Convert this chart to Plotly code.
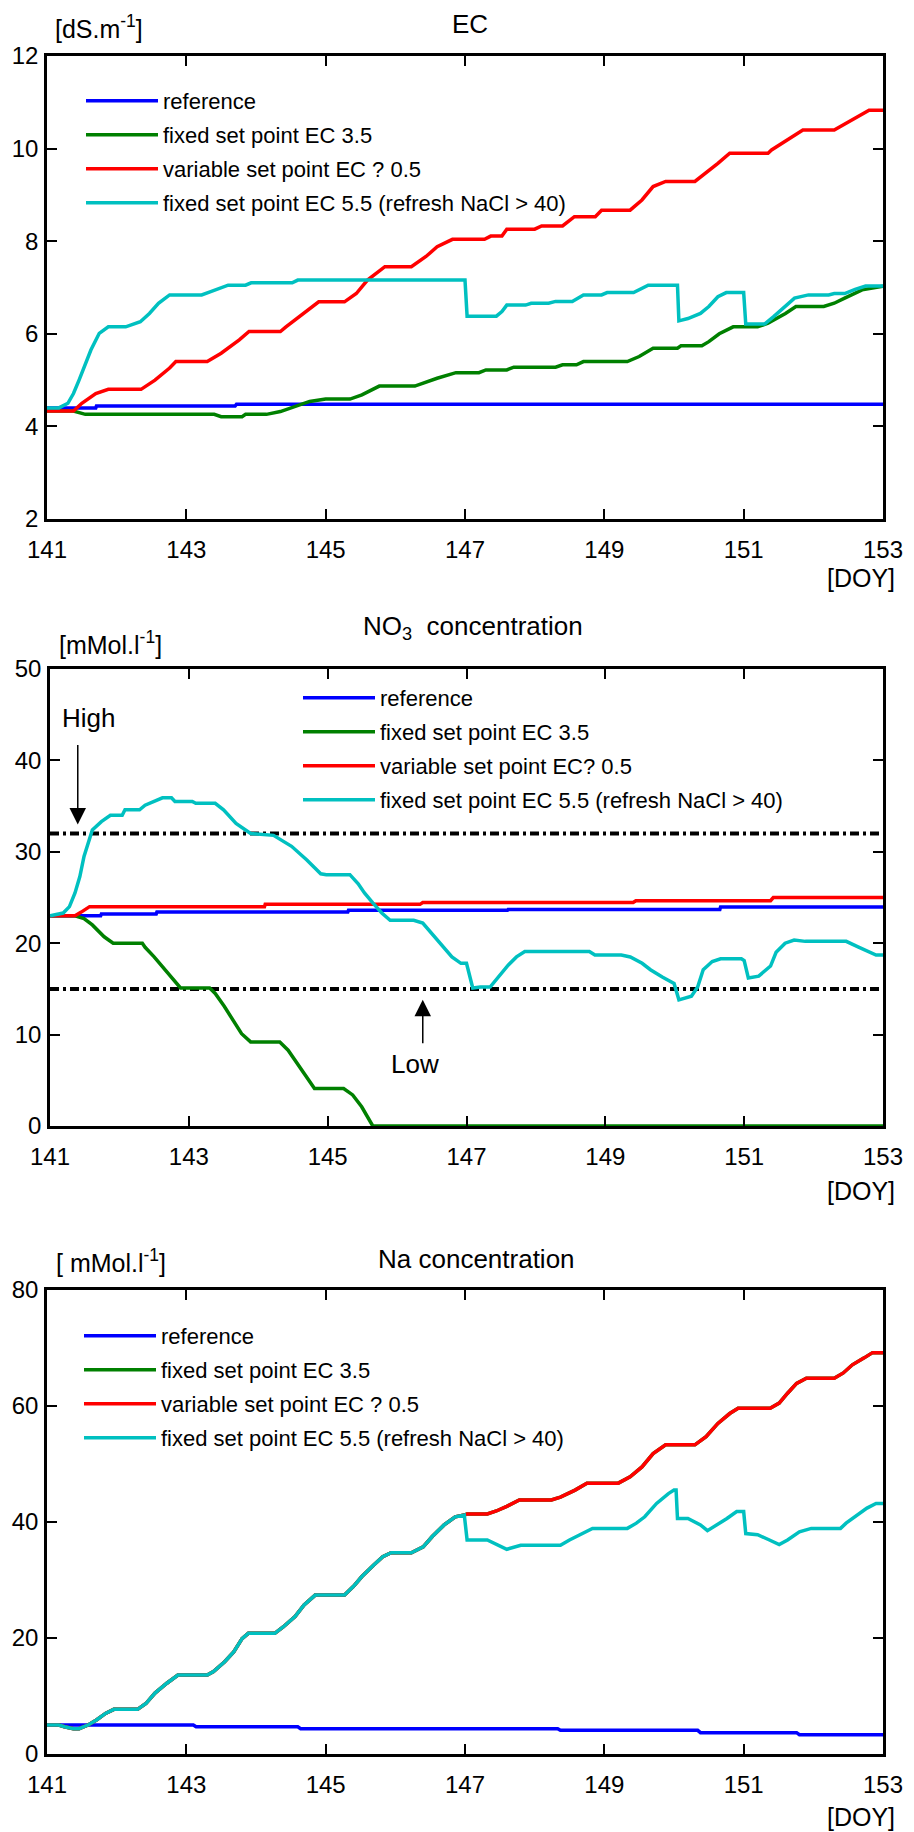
import plotly.graph_objects as go

# ---------------- data ----------------
DOY_TICKS = [141, 143, 145, 147, 149, 151, 153]

# Panel 1: EC [dS.m-1]
ec_ref_doy = [141, 141.70, 141.71, 143.70, 143.72, 153]
ec_ref = [4.40, 4.40, 4.44, 4.44, 4.48, 4.48]

ec_fix35_doy = [141, 141.38, 141.55, 143.40, 143.50, 143.80, 143.85, 144.15, 144.35, 144.60,
                144.77, 145.00, 145.35, 145.52, 145.77, 146.28, 146.60, 146.87, 147.20, 147.30,
                147.60, 147.70, 148.30, 148.40, 148.60, 148.70, 149.33, 149.50, 149.70, 150.05,
                150.10, 150.40, 150.50, 150.65, 150.85, 151.20, 151.35, 151.60, 151.75, 152.15,
                152.30, 152.45, 152.70, 153]
ec_fix35 = [4.33, 4.33, 4.26, 4.26, 4.21, 4.21, 4.26, 4.26, 4.32, 4.46,
            4.54, 4.59, 4.59, 4.68, 4.87, 4.87, 5.04, 5.16, 5.16, 5.22,
            5.22, 5.28, 5.28, 5.33, 5.33, 5.40, 5.40, 5.51, 5.69, 5.69,
            5.74, 5.74, 5.83, 6.00, 6.15, 6.15, 6.23, 6.44, 6.59, 6.59,
            6.66, 6.77, 6.95, 7.03]

ec_var_doy = [141, 141.38, 141.50, 141.70, 141.88, 142.35, 142.55, 142.76, 142.85, 143.30,
              143.50, 143.76, 143.90, 144.35, 144.43, 144.68, 144.90, 145.27, 145.44, 145.60,
              145.85, 146.23, 146.44, 146.60, 146.82, 147.28, 147.37, 147.53, 147.60, 148.00,
              148.10, 148.40, 148.57, 148.87, 148.96, 149.37, 149.54, 149.70, 149.88, 150.30,
              150.46, 150.63, 150.80, 151.35, 151.40, 151.63, 151.85, 152.30, 152.43, 152.64,
              152.80, 153]
ec_var = [4.33, 4.33, 4.50, 4.71, 4.80, 4.80, 5.00, 5.26, 5.40, 5.40,
          5.58, 5.87, 6.05, 6.05, 6.15, 6.44, 6.69, 6.69, 6.87, 7.16,
          7.45, 7.45, 7.67, 7.88, 8.04, 8.04, 8.11, 8.11, 8.26, 8.26,
          8.33, 8.33, 8.53, 8.53, 8.67, 8.67, 8.89, 9.18, 9.29, 9.29,
          9.47, 9.68, 9.90, 9.90, 9.97, 10.19, 10.40, 10.40, 10.51, 10.69,
          10.83, 10.83]

ec_fix55_doy = [141, 141.17, 141.30, 141.38, 141.46, 141.55, 141.63, 141.75, 141.88, 142.13,
                142.34, 142.47, 142.60, 142.76, 143.22, 143.35, 143.60, 143.85, 143.93, 144.52,
                144.60, 147.00, 147.03, 147.45, 147.53, 147.60, 147.87, 147.95, 148.20, 148.30,
                148.54, 148.62, 148.70, 148.96, 149.04, 149.42, 149.50, 149.63, 150.05, 150.07,
                150.20, 150.38, 150.50, 150.63, 150.75, 151.00, 151.03, 151.30, 151.43, 151.60,
                151.73, 151.93, 152.22, 152.30, 152.45, 152.60, 152.75, 153]
ec_fix55 = [4.40, 4.40, 4.50, 4.71, 5.00, 5.36, 5.65, 6.01, 6.15, 6.15,
            6.26, 6.44, 6.66, 6.84, 6.84, 6.91, 7.05, 7.05, 7.10, 7.10,
            7.16, 7.16, 6.38, 6.38, 6.48, 6.62, 6.62, 6.66, 6.66, 6.70,
            6.70, 6.77, 6.84, 6.84, 6.89, 6.89, 6.95, 7.05, 7.05, 6.28,
            6.33, 6.44, 6.59, 6.80, 6.89, 6.89, 6.21, 6.21, 6.37, 6.59,
            6.77, 6.84, 6.84, 6.87, 6.87, 6.96, 7.03, 7.03]

# Panel 2: NO3 concentration [mMol.l-1]
NO3_HIGH = 32
NO3_LOW = 15

no3_ref_doy = [141, 141.73, 141.74, 142.53, 142.54, 145.29, 145.30, 147.59, 147.60, 150.65, 150.66, 153]
no3_ref = [23.0, 23.0, 23.2, 23.2, 23.4, 23.4, 23.6, 23.6, 23.7, 23.7, 23.95, 23.95]

no3_fix35_doy = [141, 141.36, 141.49, 141.61, 141.78, 141.91, 142.33, 142.37, 142.50, 142.62,
                 142.75, 142.88, 143.30, 143.38, 143.51, 143.63, 143.76, 143.89, 144.31, 144.43,
                 144.56, 144.69, 144.81, 145.23, 145.36, 145.49, 145.57, 145.65, 153]
no3_fix35 = [23.0, 23.0, 22.7, 22.0, 20.7, 20.0, 20.0, 19.55, 18.5, 17.4,
             16.2, 15.1, 15.1, 14.5, 13.1, 11.6, 10.1, 9.2, 9.2, 8.3,
             6.9, 5.4, 4.1, 4.1, 3.4, 2.1, 1.0, 0.0, 0.0]

no3_var_doy = [141, 141.36, 141.45, 141.57, 144.09, 144.10, 146.33, 146.37, 149.40, 149.44, 151.38, 151.42, 153]
no3_var = [23.0, 23.0, 23.4, 24.0, 24.0, 24.25, 24.25, 24.45, 24.45, 24.65, 24.65, 25.0, 25.0]

no3_fix55_doy = [141, 141.19, 141.28, 141.36, 141.43, 141.49, 141.61, 141.74, 141.87, 142.04,
                 142.08, 142.29, 142.37, 142.54, 142.62, 142.75, 142.80, 143.05, 143.10, 143.38,
                 143.50, 143.68, 143.89, 144.22, 144.48, 144.70, 144.90, 144.98, 145.32, 145.44,
                 145.53, 145.65, 145.78, 145.90, 146.24, 146.37, 146.54, 146.66, 146.79, 146.92,
                 147.00, 147.09, 147.20, 147.34, 147.46, 147.60, 147.72, 147.84, 148.77, 148.85,
                 149.23, 149.36, 149.53, 149.65, 149.82, 149.99, 150.06, 150.24, 150.33, 150.41,
                 150.54, 150.66, 150.96, 151.00, 151.06, 151.21, 151.38, 151.46, 151.59, 151.72,
                 151.88, 152.47, 152.64, 152.77, 152.90, 153]
no3_fix55 = [23.0, 23.3, 24.0, 25.5, 27.3, 29.5, 32.4, 33.3, 34.0, 34.0,
             34.6, 34.6, 35.1, 35.7, 35.9, 35.9, 35.5, 35.5, 35.3, 35.3,
             34.6, 33.1, 32.0, 31.8, 30.6, 29.1, 27.6, 27.5, 27.5, 26.5,
             25.5, 24.4, 23.3, 22.5, 22.5, 22.2, 20.7, 19.6, 18.5, 17.8,
             17.8, 15.1, 15.2, 15.2, 16.3, 17.6, 18.5, 19.1, 19.1, 18.7,
             18.7, 18.5, 17.8, 17.1, 16.3, 15.6, 13.8, 14.2, 15.2, 17.1,
             18.0, 18.3, 18.3, 18.1, 16.2, 16.4, 17.5, 19.0, 20.0, 20.35,
             20.2, 20.2, 19.6, 19.1, 18.7, 18.7]

# Panel 3: Na concentration [mMol.l-1]
na_ref_doy = [141, 143.10, 143.14, 144.60, 144.64, 148.33, 148.37, 150.34, 150.38, 151.76, 151.80, 153]
na_ref = [5.0, 5.0, 4.7, 4.7, 4.37, 4.37, 4.08, 4.08, 3.68, 3.68, 3.33, 3.33]

# common part of all non-refreshed Na curves (until DOY 147)
na_common_doy = [141, 141.17, 141.25, 141.38, 141.46, 141.59, 141.71, 141.84, 141.96, 142.30,
                 142.42, 142.55, 142.72, 142.88, 143.30, 143.39, 143.55, 143.68, 143.80, 143.89,
                 144.27, 144.39, 144.56, 144.69, 144.85, 145.27, 145.40, 145.52, 145.69, 145.82,
                 145.94, 146.23, 146.40, 146.53, 146.70, 146.86, 146.99]
na_common = [5.0, 5.0, 4.7, 4.37, 4.37, 5.0, 5.86, 7.0, 7.7, 7.7,
             8.7, 10.5, 12.2, 13.6, 13.6, 14.2, 15.9, 17.6, 19.9, 20.8,
             20.8, 21.9, 23.7, 25.7, 27.4, 27.4, 28.9, 30.6, 32.6, 34.0,
             34.7, 34.7, 35.7, 37.5, 39.5, 40.9, 41.2]

na_var_tail_doy = [147.03, 147.32, 147.45, 147.60, 147.78, 148.24, 148.37, 148.58, 148.75, 149.20,
                   149.37, 149.54, 149.70, 149.88, 150.30, 150.46, 150.63, 150.80, 150.92, 151.38,
                   151.51, 151.63, 151.76, 151.90, 152.30, 152.43, 152.56, 152.73, 152.85, 153]
na_var_tail = [41.4, 41.4, 41.9, 42.7, 43.8, 43.8, 44.3, 45.5, 46.7, 46.7,
               47.8, 49.5, 51.8, 53.3, 53.3, 54.7, 57.0, 58.7, 59.6, 59.6,
               60.5, 62.2, 63.9, 64.8, 64.8, 65.7, 67.1, 68.3, 69.2, 69.2]
# fixed set point EC 3.5 coincides with the variable set point curve (hidden under it)
na_fix35_tail_doy = list(na_var_tail_doy)
na_fix35_tail = list(na_var_tail)

na_fix55_tail_doy = [147.03, 147.32, 147.48, 147.60, 147.80, 148.37, 148.50, 148.66, 148.83, 149.33,
                     149.46, 149.58, 149.75, 149.92, 150.00, 150.03, 150.05, 150.20, 150.38, 150.48,
                     150.58, 150.76, 150.90, 151.00, 151.03, 151.20, 151.37, 151.51, 151.63, 151.80,
                     151.97, 152.39, 152.47, 152.64, 152.77, 152.90, 153]
na_fix55_tail = [36.9, 36.9, 36.0, 35.3, 36.0, 36.0, 36.9, 37.9, 38.9, 38.9,
                 39.8, 40.9, 43.2, 44.9, 45.5, 45.5, 40.6, 40.6, 39.5, 38.5,
                 39.2, 40.6, 41.8, 41.8, 38.0, 37.8, 36.9, 36.1, 36.9, 38.3,
                 38.9, 38.9, 39.8, 41.2, 42.4, 43.2, 43.2]

# ---------------- styling ----------------
W, H = 914, 1832
OFF = 8  # page body margin: figure is drawn 8 px right/down of the page origin
COL = {"ref": "#0000FF", "f35": "#008000", "var": "#FF0000", "f55": "#00C0C0"}
LW = 3.5
SANS = "Liberation Sans, Arial, sans-serif"


def py(p):
    """page pixel row -> paper y"""
    return 1 - (p - OFF) / H


def px(p):
    """page pixel column -> paper x"""
    return (p - OFF) / W


fig = go.Figure()


def add_panel(idx, series, legend_name):
    xa = "x" if idx == 1 else f"x{idx}"
    ya = "y" if idx == 1 else f"y{idx}"
    for name, key, xs, ys in series:
        fig.add_trace(go.Scatter(x=xs, y=ys, mode="lines", name=name,
                                 line=dict(color=COL[key], width=LW),
                                 legendgroup=f"{legend_name}_{key}",
                                 xaxis=xa, yaxis=ya, legend=legend_name))


names1 = ["reference", "fixed set point EC 3.5", "variable set point EC ? 0.5",
          "fixed set point EC 5.5 (refresh NaCl > 40)"]
names2 = ["reference", "fixed set point EC 3.5", "variable set point EC? 0.5",
          "fixed set point EC 5.5 (refresh NaCl > 40)"]

add_panel(1, [(names1[0], "ref", ec_ref_doy, ec_ref),
              (names1[1], "f35", ec_fix35_doy, ec_fix35),
              (names1[2], "var", ec_var_doy, ec_var),
              (names1[3], "f55", ec_fix55_doy, ec_fix55)], "legend")

# thresholds in NO3 panel
for lvl in (NO3_HIGH, NO3_LOW):
    fig.add_trace(go.Scatter(x=[DOY_TICKS[0], DOY_TICKS[-1]], y=[lvl, lvl], mode="lines",
                             line=dict(color="black", width=4, dash="9px,4px,3px,4px"),
                             showlegend=False, xaxis="x2", yaxis="y2", hoverinfo="skip"))

add_panel(2, [(names2[0], "ref", no3_ref_doy, no3_ref),
              (names2[1], "f35", no3_fix35_doy, no3_fix35),
              (names2[2], "var", no3_var_doy, no3_var),
              (names2[3], "f55", no3_fix55_doy, no3_fix55)], "legend2")

add_panel(3, [(names1[0], "ref", na_ref_doy, na_ref),
              (names1[1], "f35", na_common_doy + na_fix35_tail_doy, na_common + na_fix35_tail),
              (names1[2], "var", na_common_doy + na_var_tail_doy, na_common + na_var_tail),
              (names1[3], "f55", na_common_doy + na_fix55_tail_doy, na_common + na_fix55_tail)],
          "legend3")

axis_common = dict(showline=True, linecolor="black", linewidth=2.5, mirror="allticks",
                   ticks="inside", ticklen=10, tickwidth=2, tickcolor="black",
                   showgrid=False, zeroline=False, automargin=False,
                   tickfont=dict(family=SANS, size=24, color="black"))

fig.update_layout(
    width=W, height=H, paper_bgcolor="white", plot_bgcolor="white",
    margin=dict(l=0, r=0, t=0, b=0, autoexpand=False),
    showlegend=True,
    xaxis=dict(domain=[px(47), px(883)], anchor="y", range=[141, 153], tickvals=DOY_TICKS,
               ticklabelstandoff=7, **axis_common),
    yaxis=dict(domain=[py(519), py(56)], anchor="x", range=[2, 12], dtick=2,
               ticklabelstandoff=1, **axis_common),
    xaxis2=dict(domain=[px(50), px(883)], anchor="y2", range=[141, 153], tickvals=DOY_TICKS,
                ticklabelstandoff=7, **axis_common),
    yaxis2=dict(domain=[py(1126), py(669)], anchor="x2", range=[0, 50], dtick=10,
                ticklabelstandoff=1, **axis_common),
    xaxis3=dict(domain=[px(47), px(883)], anchor="y3", range=[141, 153], tickvals=DOY_TICKS,
                ticklabelstandoff=7, **axis_common),
    yaxis3=dict(domain=[py(1754), py(1290)], anchor="x3", range=[0, 80], dtick=20,
                ticklabelstandoff=1, **axis_common),
)

leg_common = dict(xanchor="left", yanchor="top", bgcolor="rgba(0,0,0,0)",
                  font=dict(family=SANS, size=22, color="black"), itemwidth=72,
                  tracegroupgap=2.4)
fig.update_layout(
    legend=dict(x=px(81), y=py(80), **leg_common),
    legend2=dict(x=px(298), y=py(677), **leg_common),
    legend3=dict(x=px(79), y=py(1315), **leg_common),
)

ann = []


def txt(x, y, s, size, xanchor="center", xref="paper", yref="paper"):
    ann.append(dict(x=x, y=y, xref=xref, yref=yref, text=s, showarrow=False,
                    xanchor=xanchor, yanchor="middle",
                    font=dict(family=SANS, size=size, color="black")))


# panel titles
txt(px(470), py(24), "EC", 26)
txt(px(473), py(628), "NO<sub>3</sub>  concentration", 26)
txt(px(476), py(1259), "Na concentration", 26)
# units
txt(px(53), py(27), "[dS.m<sup>-1</sup>]", 25, xanchor="left")
txt(px(57), py(643), "[mMol.l<sup>-1</sup>]", 25, xanchor="left")
txt(px(54), py(1261), "[ mMol.l<sup>-1</sup>]", 25, xanchor="left")
# x unit
txt(px(897), py(578), "[DOY]", 25, xanchor="right")
txt(px(897), py(1191), "[DOY]", 25, xanchor="right")
txt(px(897), py(1817), "[DOY]", 25, xanchor="right")
# High / Low labels
txt(141.55, 44.6, "High", 26, xref="x2", yref="y2")
txt(146.26, 6.8, "Low", 26, xref="x2", yref="y2")
ann.append(dict(x=141.40, y=33.0, xref="x2", yref="y2", text="", showarrow=True,
                ax=0, ay=-81, arrowhead=2, arrowsize=2.2, arrowwidth=1.5, arrowcolor="black"))
ann.append(dict(x=146.37, y=13.8, xref="x2", yref="y2", text="", showarrow=True,
                ax=0, ay=45, arrowhead=2, arrowsize=2.2, arrowwidth=1.5, arrowcolor="black"))
fig.update_layout(annotations=ann)

fig.write_html("out.html")
